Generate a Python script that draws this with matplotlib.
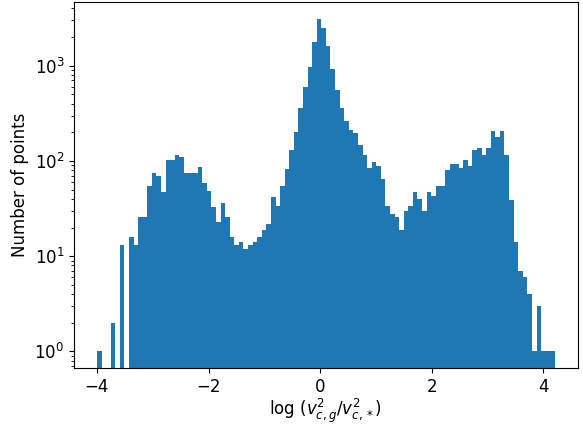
import numpy as np
import matplotlib.pyplot as plt

# histogram counts, 100 bins from -4 to 4.205
counts = [1, 0, 0, 2, 0, 13, 0, 16, 13, 26,
          26, 55, 75, 69, 47, 103, 103, 116, 111, 74,
          74, 74, 87, 59, 48, 33, 23, 36, 26, 16,
          13, 14, 12, 13, 14, 16, 19, 22, 42, 34,
          54, 83, 131, 202, 359, 594, 960, 1791, 3110, 2506,
          1627, 915, 553, 359, 262, 212, 197, 148, 116, 85,
          98, 89, 65, 34, 28, 26, 19, 30, 34, 47,
          40, 30, 47, 43, 55, 54, 81, 94, 94, 85,
          103, 89, 131, 138, 116, 138, 207, 179, 207, 116,
          39, 14, 7, 6, 4, 1, 3, 1, 1, 1]
x_min, x_max = -4.0, 4.205
n_bins = 100

edges = np.linspace(x_min, x_max, n_bins + 1)
centers = 0.5 * (edges[:-1] + edges[1:])

plt.rcParams['font.size'] = 12
fig = plt.figure(figsize=(5.83, 4.28), dpi=100)
plt.hist(centers, bins=edges, weights=counts, log=True, color='#1f77b4')
plt.xlabel(r'log $(v_{c,g}^2/v_{c,*}^2)$', labelpad=1)
plt.ylabel('Number of points')
plt.subplots_adjust(left=0.127, right=0.991, top=0.995, bottom=0.14)
plt.savefig('out.png')
